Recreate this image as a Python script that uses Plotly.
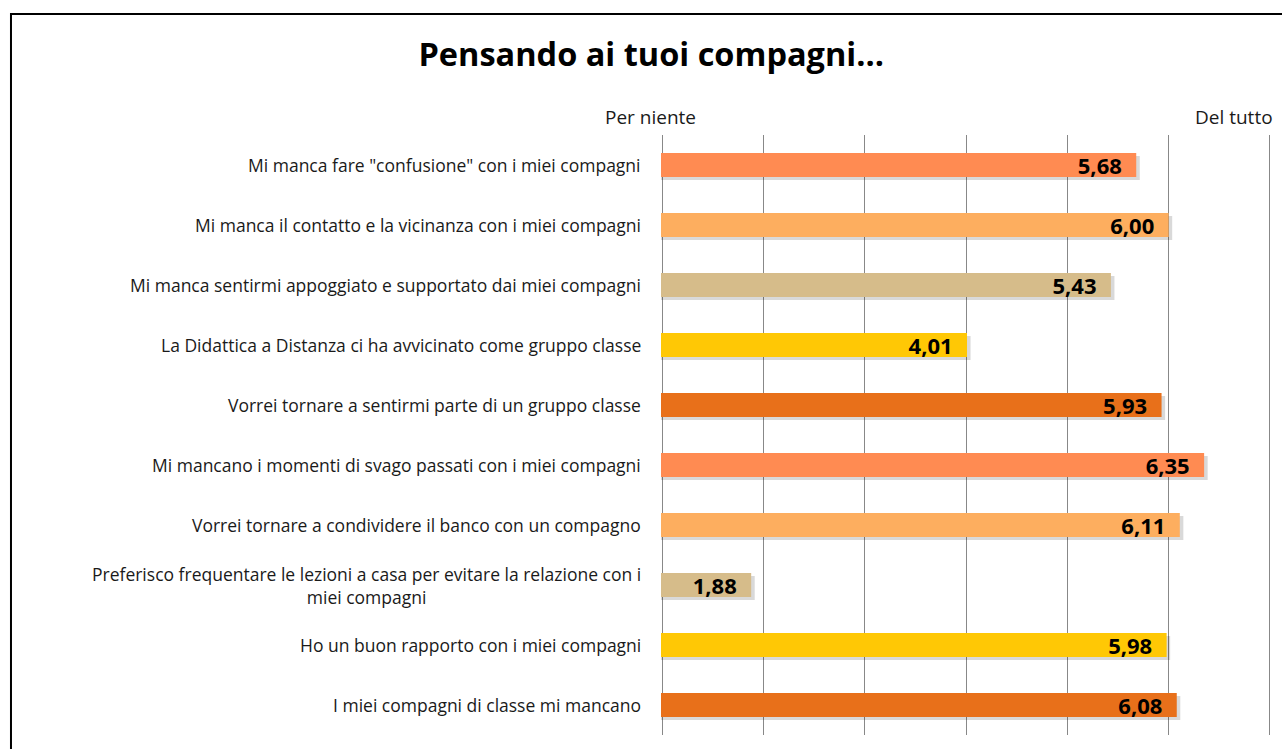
import plotly.graph_objects as go

categories = [
    'Mi manca fare "confusione" con i miei compagni',
    "Mi manca il contatto e la vicinanza con i miei compagni",
    "Mi manca sentirmi appoggiato e supportato dai miei compagni",
    "La Didattica a Distanza ci ha avvicinato come gruppo classe",
    "Vorrei tornare a sentirmi parte di un gruppo classe",
    "Mi mancano i momenti di svago passati con i miei compagni",
    "Vorrei tornare a condividere il banco con un compagno",
    "Preferisco frequentare le lezioni a casa per evitare la relazione con i<br>miei compagni",
    "Ho un buon rapporto con i miei compagni",
    "I miei compagni di classe mi mancano",
]
values = [5.68, 6.00, 5.43, 4.01, 5.93, 6.35, 6.11, 1.88, 5.98, 6.08]
bar_colors = ["#FF8B52", "#FDAE5F", "#D6BC8A", "#FFC805", "#E8701A",
              "#FF8B52", "#FDAE5F", "#D6BC8A", "#FFC805", "#E8701A"]
scale_labels = ["Per niente", "Del tutto"]
scale_positions = [1, 7]

FONT = "Open Sans"
ypos = list(range(len(categories)))

fig = go.Figure()
# soft drop shadow under each bar
fig.add_trace(go.Bar(
    y=ypos, x=[v + 0.035 for v in values], orientation="h",
    marker=dict(color="rgba(0,0,0,0.15)", line=dict(width=0)),
    width=0.4, offset=-0.15, hoverinfo="skip",
))
fig.add_trace(go.Bar(
    y=ypos,
    x=values,
    orientation="h",
    marker=dict(color=bar_colors, line=dict(width=0)),
    texttemplate="<b>%{x:.2f}</b>\u00a0\u00a0",
    textposition="inside",
    insidetextanchor="end",
    textfont=dict(family=FONT, size=22, color="black"),
    width=0.4, offset=-0.2,
    hoverinfo="skip",
))

annotations = []
for i, c in enumerate(categories):
    annotations.append(dict(
        text=c, xref="paper", yref="y", x=0, y=i, xshift=-18,
        xanchor="right", yanchor="middle", align="center", showarrow=False,
        font=dict(family=FONT, size=17.5, color="#1a1a1a"),
    ))
annotations.append(dict(
    text=scale_labels[0], xref="x", yref="paper", x=scale_positions[0], y=1,
    xshift=-12, yshift=3, xanchor="center", yanchor="bottom", showarrow=False,
    font=dict(family=FONT, size=19, color="#1a1a1a"),
))
annotations.append(dict(
    text=scale_labels[1], xref="x", yref="paper", x=scale_positions[1], y=1,
    xshift=5, yshift=3, xanchor="right", yanchor="bottom", showarrow=False,
    font=dict(family=FONT, size=19, color="#1a1a1a"),
))

fig.update_layout(
    width=1282, height=749,
    margin=dict(l=661, r=11, t=135, b=14),
    paper_bgcolor="white", plot_bgcolor="white",
    separators=",.",
    showlegend=False,
    barmode="overlay",
    uniformtext=dict(minsize=22, mode="show"),
    title=dict(text="<b>Pensando ai tuoi compagni...</b>", x=0.508, xanchor="center",
               y=0.927, yanchor="middle",
               font=dict(family=FONT, size=32.5, color="black")),
    xaxis=dict(range=[0.99, 7.01], dtick=1, tick0=1, showgrid=True, gridcolor="#888888",
               gridwidth=1, showticklabels=False, zeroline=False, showline=False,
               ticks=""),
    yaxis=dict(range=[9.5, -0.5], showticklabels=False, showgrid=False,
               zeroline=False, showline=False, ticks=""),
    annotations=annotations,
    shapes=[dict(type="rect", xref="paper", yref="paper",
                 x0=-1.0656, x1=1.05, y0=-0.05, y1=1.2017,
                 line=dict(color="black", width=2), fillcolor="rgba(0,0,0,0)",
                 layer="below")],
)

fig.write_html("out.html", config={"displayModeBar": False},
               post_script="document.body.style.margin='0';document.body.style.overflow='hidden';")
